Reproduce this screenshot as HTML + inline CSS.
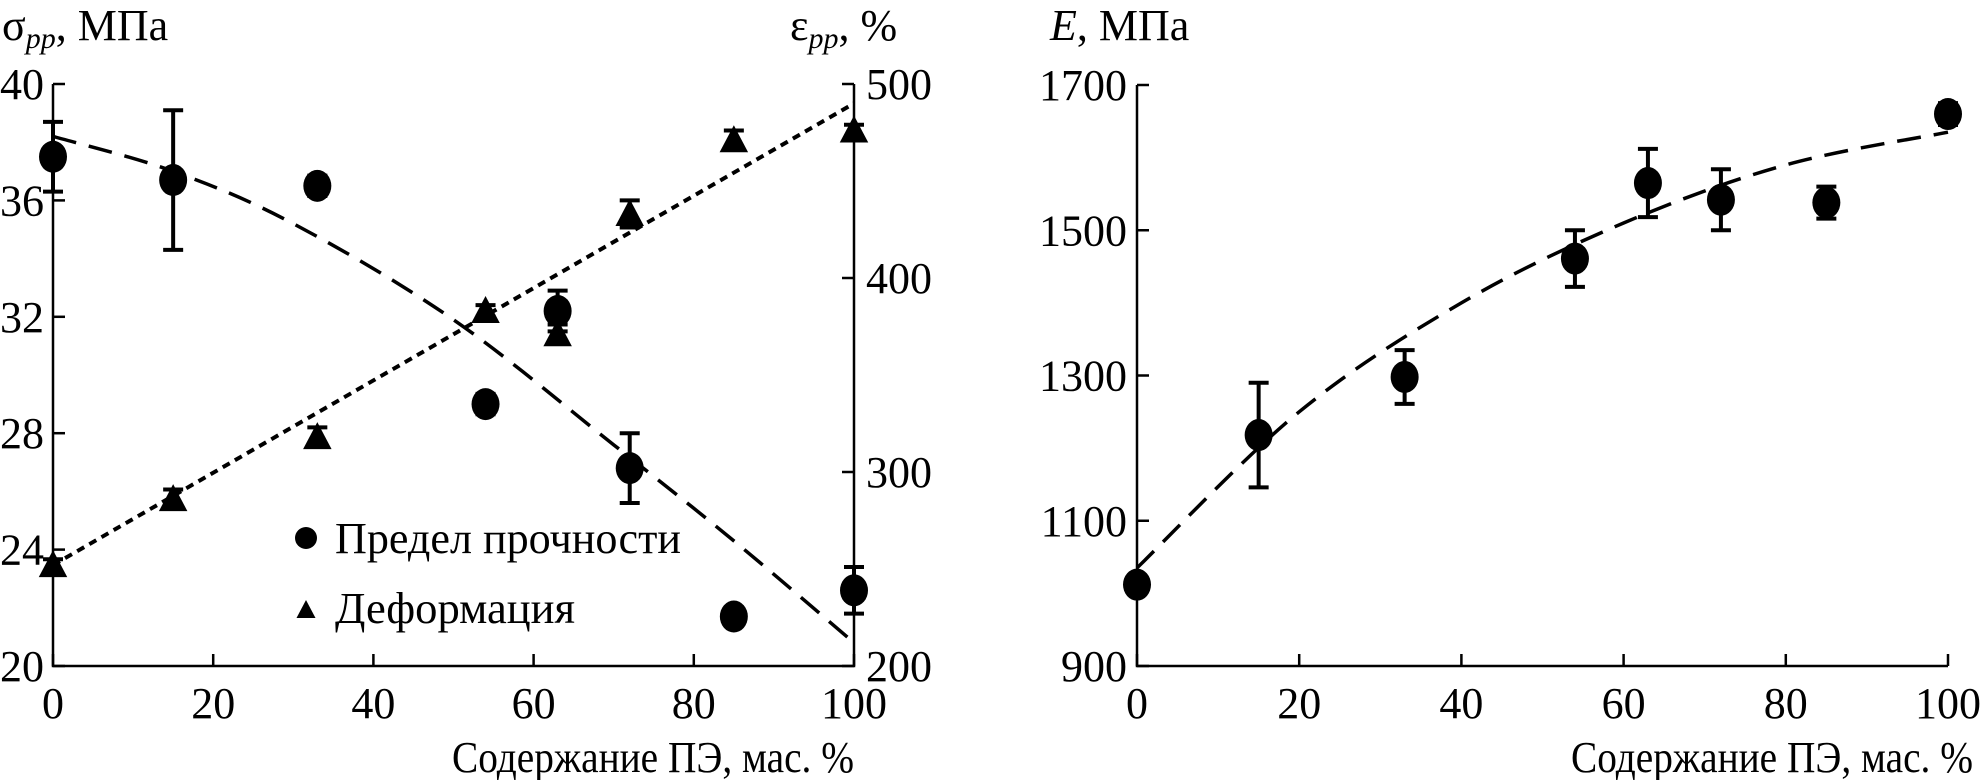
<!DOCTYPE html>
<html><head><meta charset="utf-8"><style>
html,body{margin:0;padding:0;background:#fff;}
svg{display:block;font-family:"Liberation Serif","DejaVu Serif",serif;}
</style></head><body>
<svg id="chart" width="1983" height="780" viewBox="0 0 1983 780" xmlns="http://www.w3.org/2000/svg">
<g id="left"></g>
<g id="right"></g>
</svg>
<script>
const xCats = [0, 15, 33, 54, 63, 72, 85, 100];
const strength = [37.5, 36.7, 36.5, 29.0, 32.2, 26.8, 21.7, 22.6];
const strengthErr = [1.2, 2.4, 0.35, 0.35, 0.7, 1.2, 0.25, 0.8];
const strain = [252, 286, 318, 383, 371, 433, 471, 476];
const strainErr = [3, 5, 5, 3, 5, 7, 5, 3];
const strengthFitX = [0, 15, 30, 50, 70, 85, 100];
const strengthFit = [38.2, 37.0, 35.2, 31.9, 27.6, 24.3, 20.8];
const strainFitX = [0, 50, 100];
const strainFit = [252, 371, 490];
const modulus = [1012, 1218, 1298, 1461, 1565, 1542, 1538, 1660];
const modulusErr = [0, 72, 37, 39, 47, 42, 22, 15];
const modFitX = [0, 20, 40, 60, 80, 100];
const modFit = [1035, 1250, 1400, 1510, 1590, 1635];
const xTicks = [0, 20, 40, 60, 80, 100];
const sTicks = [20, 24, 28, 32, 36, 40];
const eTicks = [200, 300, 400, 500];
const mTicks = [900, 1100, 1300, 1500, 1700];

const NS = "http://www.w3.org/2000/svg";
function mk(parent, tag, attrs, text) {
  const e = document.createElementNS(NS, tag);
  for (const k in attrs) e.setAttribute(k, attrs[k]);
  if (text !== undefined) e.textContent = text;
  parent.appendChild(e);
  return e;
}
function lin(d0, d1, r0, r1) { return v => r0 + (v - d0) * (r1 - r0) / (d1 - d0); }
function smooth(pts) {
  let d = `M${pts[0][0]} ${pts[0][1]}`;
  for (let i = 0; i < pts.length - 1; i++) {
    const p0 = pts[i - 1] || pts[i], p1 = pts[i], p2 = pts[i + 1], p3 = pts[i + 2] || p2;
    const c1 = [p1[0] + (p2[0] - p0[0]) / 6, p1[1] + (p2[1] - p0[1]) / 6];
    const c2 = [p2[0] - (p3[0] - p1[0]) / 6, p2[1] - (p3[1] - p1[1]) / 6];
    d += `C${c1[0]} ${c1[1]} ${c2[0]} ${c2[1]} ${p2[0]} ${p2[1]}`;
  }
  return d;
}

const L = document.getElementById('left');
const lx = lin(0, 100, 53, 854);
const ly = lin(20, 40, 666, 84);
const ry = lin(200, 500, 666, 84);
let el;
el = mk(L, 'path', {d: `M${lx(0)} ${ly(40)} V${ly(20)} H${lx(100)} V${ry(500)}`, fill: 'none', stroke: '#000', 'stroke-width': 2.5});


xTicks.forEach(t => {
  el = mk(L, 'line', {x1: lx(t), x2: lx(t), y1: ly(20), y2: ly(20) - 12, stroke: '#000', 'stroke-width': 2.5});
  
  
  el = mk(L, 'text', {x: lx(t), y: ly(20) + 52, 'font-size': 44, 'text-anchor': 'middle'}, String(t));
  
  
});
sTicks.forEach(t => {
  el = mk(L, 'line', {x1: lx(0), x2: lx(0) + 12, y1: ly(t), y2: ly(t), stroke: '#000', 'stroke-width': 2.5});
  
  
  el = mk(L, 'text', {x: 44, y: ly(t) + 15, 'font-size': 44, 'text-anchor': 'end'}, String(t));
  
  
});
eTicks.forEach(t => {
  el = mk(L, 'line', {x1: lx(100), x2: lx(100) - 12, y1: ry(t), y2: ry(t), stroke: '#000', 'stroke-width': 2.5});
  
  
  el = mk(L, 'text', {x: lx(100) + 12, y: ry(t) + 15, 'font-size': 44}, String(t));
  
  
});
el = mk(L, 'path', {d: smooth(strengthFitX.map((v, i) => [lx(v), ly(strengthFit[i])])), fill: 'none', stroke: '#000', 'stroke-width': 3.5, 'stroke-dasharray': '24 13'});


el = mk(L, 'path', {d: smooth(strainFitX.map((v, i) => [lx(v), ry(strainFit[i])])), fill: 'none', stroke: '#000', 'stroke-width': 4, 'stroke-dasharray': '8 6'});


function errBar(p, x, y0, y1, name) {
  const e = mk(p, 'path', {d: `M${x} ${y0}V${y1}M${x - 10} ${y0}H${x + 10}M${x - 10} ${y1}H${x + 10}`, fill: 'none', stroke: '#000', 'stroke-width': 4});
  
  
}
function tri(p, x, y, s) {
  return mk(p, 'polygon', {points: `${x},${y - s} ${x - s * 0.95},${y + s * 0.8} ${x + s * 0.95},${y + s * 0.8}`, fill: '#000'});
}
xCats.forEach((c, i) => {
  errBar(L, lx(c), ry(strain[i] - strainErr[i]), ry(strain[i] + strainErr[i]), 'strain-error-bar');
  el = tri(L, lx(c), ry(strain[i]), 15);
  
  
  errBar(L, lx(c), ly(strength[i] - strengthErr[i]), ly(strength[i] + strengthErr[i]), 'strength-error-bar');
  el = mk(L, 'ellipse', {cx: lx(c), cy: ly(strength[i]), rx: 14, ry: 16, fill: '#000'});
  
  
});
el = mk(L, 'circle', {cx: 306, cy: 538, r: 11, fill: '#000'});


el = mk(L, 'text', {x: 335, y: 553, 'font-size': 44, textLength: 346, lengthAdjust: 'spacingAndGlyphs'}, 'Предел прочности');


el = tri(L, 306, 610, 10);


el = mk(L, 'text', {x: 335, y: 623, 'font-size': 44, textLength: 240, lengthAdjust: 'spacingAndGlyphs'}, 'Деформация');


el = mk(L, 'text', {x: 452, y: 772, 'font-size': 44, textLength: 402, lengthAdjust: 'spacingAndGlyphs'}, 'Содержание ПЭ, мас. %');


el = mk(L, 'text', {x: 2, y: 40, 'font-size': 44}, '');
el.innerHTML = 'σ<tspan font-style="italic" font-size="30" dy="8">pp</tspan><tspan dy="-8">, МПа</tspan>';


el = mk(L, 'text', {x: 790, y: 40, 'font-size': 44}, '');
el.innerHTML = 'ε<tspan font-style="italic" font-size="30" dy="8">pp</tspan><tspan dy="-8">, %</tspan>';



const R = document.getElementById('right');
const mx = lin(0, 100, 1137, 1948);
const my = lin(900, 1700, 666, 85);
el = mk(R, 'path', {d: `M${mx(0)} ${my(1700)} V${my(900)} H${mx(100)}`, fill: 'none', stroke: '#000', 'stroke-width': 2.5});


xTicks.forEach(t => {
  el = mk(R, 'line', {x1: mx(t), x2: mx(t), y1: my(900), y2: my(900) - 12, stroke: '#000', 'stroke-width': 2.5});
  
  
  el = mk(R, 'text', {x: mx(t), y: my(900) + 52, 'font-size': 44, 'text-anchor': 'middle'}, String(t));
  
  
});
mTicks.forEach(t => {
  el = mk(R, 'line', {x1: mx(0), x2: mx(0) + 12, y1: my(t), y2: my(t), stroke: '#000', 'stroke-width': 2.5});
  
  
  el = mk(R, 'text', {x: mx(0) - 10, y: my(t) + 15, 'font-size': 44, 'text-anchor': 'end'}, String(t));
  
  
});
el = mk(R, 'path', {d: smooth(modFitX.map((v, i) => [mx(v), my(modFit[i])])), fill: 'none', stroke: '#000', 'stroke-width': 3.5, 'stroke-dasharray': '24 13'});


xCats.forEach((c, i) => {
  if (modulusErr[i] > 0) errBar(R, mx(c), my(modulus[i] - modulusErr[i]), my(modulus[i] + modulusErr[i]), 'modulus-error-bar');
  el = mk(R, 'ellipse', {cx: mx(c), cy: my(modulus[i]), rx: 14, ry: 16, fill: '#000'});
  
  
});
el = mk(R, 'text', {x: 1571, y: 772, 'font-size': 44, textLength: 402, lengthAdjust: 'spacingAndGlyphs'}, 'Содержание ПЭ, мас. %');


el = mk(R, 'text', {x: 1050, y: 40, 'font-size': 44}, '');
el.innerHTML = '<tspan font-style="italic">E</tspan>, МПа';


</script>
</body></html>
